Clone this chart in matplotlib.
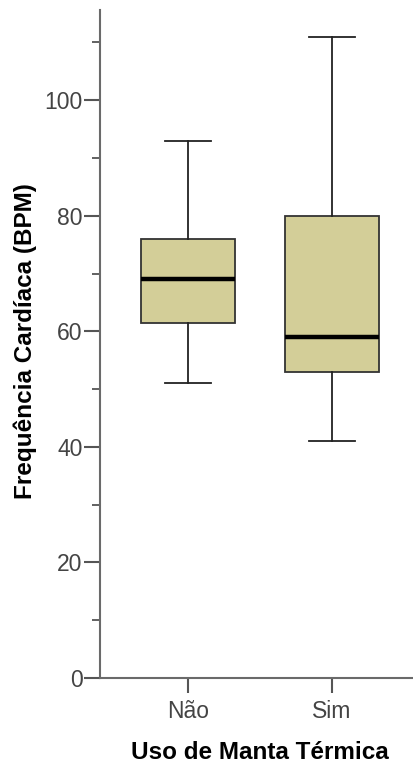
import matplotlib
matplotlib.use('Agg')
import matplotlib.pyplot as plt
from matplotlib.ticker import MultipleLocator

# Data
categories = ['Não', 'Sim']
whisker_low = [51, 41]
q1 = [61.5, 53]
median = [69, 59]
q3 = [76, 80]
whisker_high = [93, 111]

W, H = 414, 769
fig = plt.figure(figsize=(W / 100, H / 100), dpi=100)
plt.rcParams['font.family'] = ['Liberation Sans', 'DejaVu Sans']

left, bottom, top, right = 100, 678, 10, 420
ax = fig.add_axes([left / W, (H - bottom) / H, (right - left) / W, (bottom - top) / H])

stats = []
for i, cat in enumerate(categories):
    stats.append({'label': cat, 'whislo': whisker_low[i], 'q1': q1[i], 'med': median[i],
                  'q3': q3[i], 'whishi': whisker_high[i], 'fliers': []})

ax.bxp(stats, positions=[1, 2], widths=0.65, patch_artist=True, showfliers=False,
       boxprops=dict(facecolor='#d3ce98', edgecolor='#333333', linewidth=1.3),
       medianprops=dict(color='black', linewidth=3.2, solid_capstyle='butt'),
       whiskerprops=dict(color='#222222', linewidth=1.3),
       capprops=dict(color='#222222', linewidth=1.3),
       capwidths=0.32)

ax.set_xlim(0.39, 2.61)
ax.set_ylim(0, 115.6)
ax.yaxis.set_major_locator(MultipleLocator(20))
ax.yaxis.set_minor_locator(MultipleLocator(10))

for s in ['top', 'right']:
    ax.spines[s].set_visible(False)
for s in ['left', 'bottom']:
    ax.spines[s].set_color('#6a6a6a')
    ax.spines[s].set_linewidth(1.5)

ax.tick_params(axis='y', which='major', length=11.5, width=1.5, color='#555555',
               labelsize=16.5, labelcolor='#444444', pad=1)
ax.tick_params(axis='y', which='minor', length=6, width=1.3, color='#555555')
ax.tick_params(axis='x', which='major', length=11, width=1.5, color='#555555',
               labelsize=16.5, labelcolor='#444444', pad=5)

ax.set_xlabel('Uso de Manta Térmica', fontsize=17.5, fontweight='bold')
ax.set_ylabel('Frequência Cardíaca (BPM)', fontsize=17.5, fontweight='bold')
ax.xaxis.set_label_coords(0.5, -0.112)
ax.yaxis.set_label_coords(-0.234, 0.505)
ax.xaxis.label.set_va('center')
ax.yaxis.label.set_va('center')

fig.savefig('out.png', dpi=100)
